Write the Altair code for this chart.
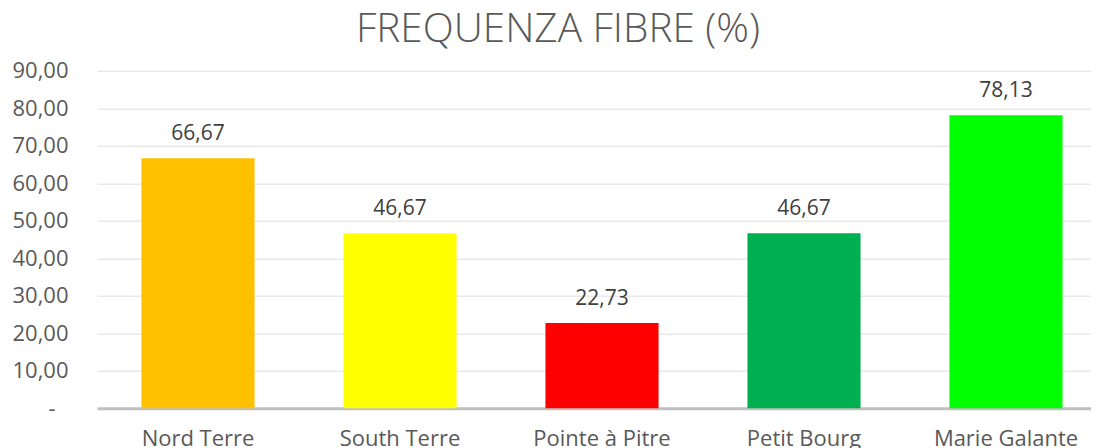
import altair as alt
import pandas as pd

categories = ["Nord Terre", "South Terre", "Pointe à Pitre", "Petit Bourg", "Marie Galante"]
values = [66.67, 46.67, 22.73, 46.67, 78.13]
colors = ["#FFC000", "#FFFF00", "#FF0000", "#00B050", "#00FF00"]
y_ticks = [0, 10, 20, 30, 40, 50, 60, 70, 80, 90]

df = pd.DataFrame({"cat": categories, "val": values, "col": colors})
df["lbl"] = [f"{v:.2f}".replace(".", ",") for v in values]

FONT = "Open Sans"
GRAY = "#595959"

x = alt.X("cat:N", sort=categories, title=None,
          scale=alt.Scale(range=[0, 1010], paddingInner=0.44, paddingOuter=0.22, align=0.5),
          axis=alt.Axis(labelAngle=0, labelFont=FONT, labelFontSize=22, labelColor=GRAY,
                        labelPadding=20, ticks=False, domainColor="#BFBFBF", domainWidth=3,
                        grid=False))
y = alt.Y("val:Q", title=None,
          scale=alt.Scale(domain=[0, 90], nice=False, zero=True),
          axis=alt.Axis(values=y_ticks, tickCount=10, labelFont=FONT, labelFontSize=22,
                        labelColor=GRAY, ticks=False, domain=False,
                        labelPadding={"condition": {"test": "datum.value == 0", "value": 42}, "value": 29},
                        labelOverlap=False,
                        gridColor="#E9E9E9", gridWidth=1.5,
                        labelExpr="datum.value == 0 ? '-' : replace(format(datum.value, '.2f'), '.', ',')"))

bars = alt.Chart(df).mark_bar().encode(
    x=x, y=y, color=alt.Color("col:N", scale=None)
)
labels = alt.Chart(df).mark_text(dy=-18, font=FONT, fontSize=21, color="#404040", baseline="alphabetic").encode(
    x=x, y=y, text="lbl:N"
)

chart = (bars + labels).properties(
    width=994, height=337.5,
    autosize=alt.AutoSizeParams(type="none"),
    padding={"left": 89, "top": 62.7, "right": 0, "bottom": 45},
    title=alt.TitleParams("FREQUENZA FIBRE (%)", font=FONT, fontSize=40.5, fontWeight=300,
                          color=GRAY, anchor="middle", dx=-36, offset=9),
).configure_view(stroke=None)

chart.save("out.html", embed_options={"renderer": "svg", "actions": False})
